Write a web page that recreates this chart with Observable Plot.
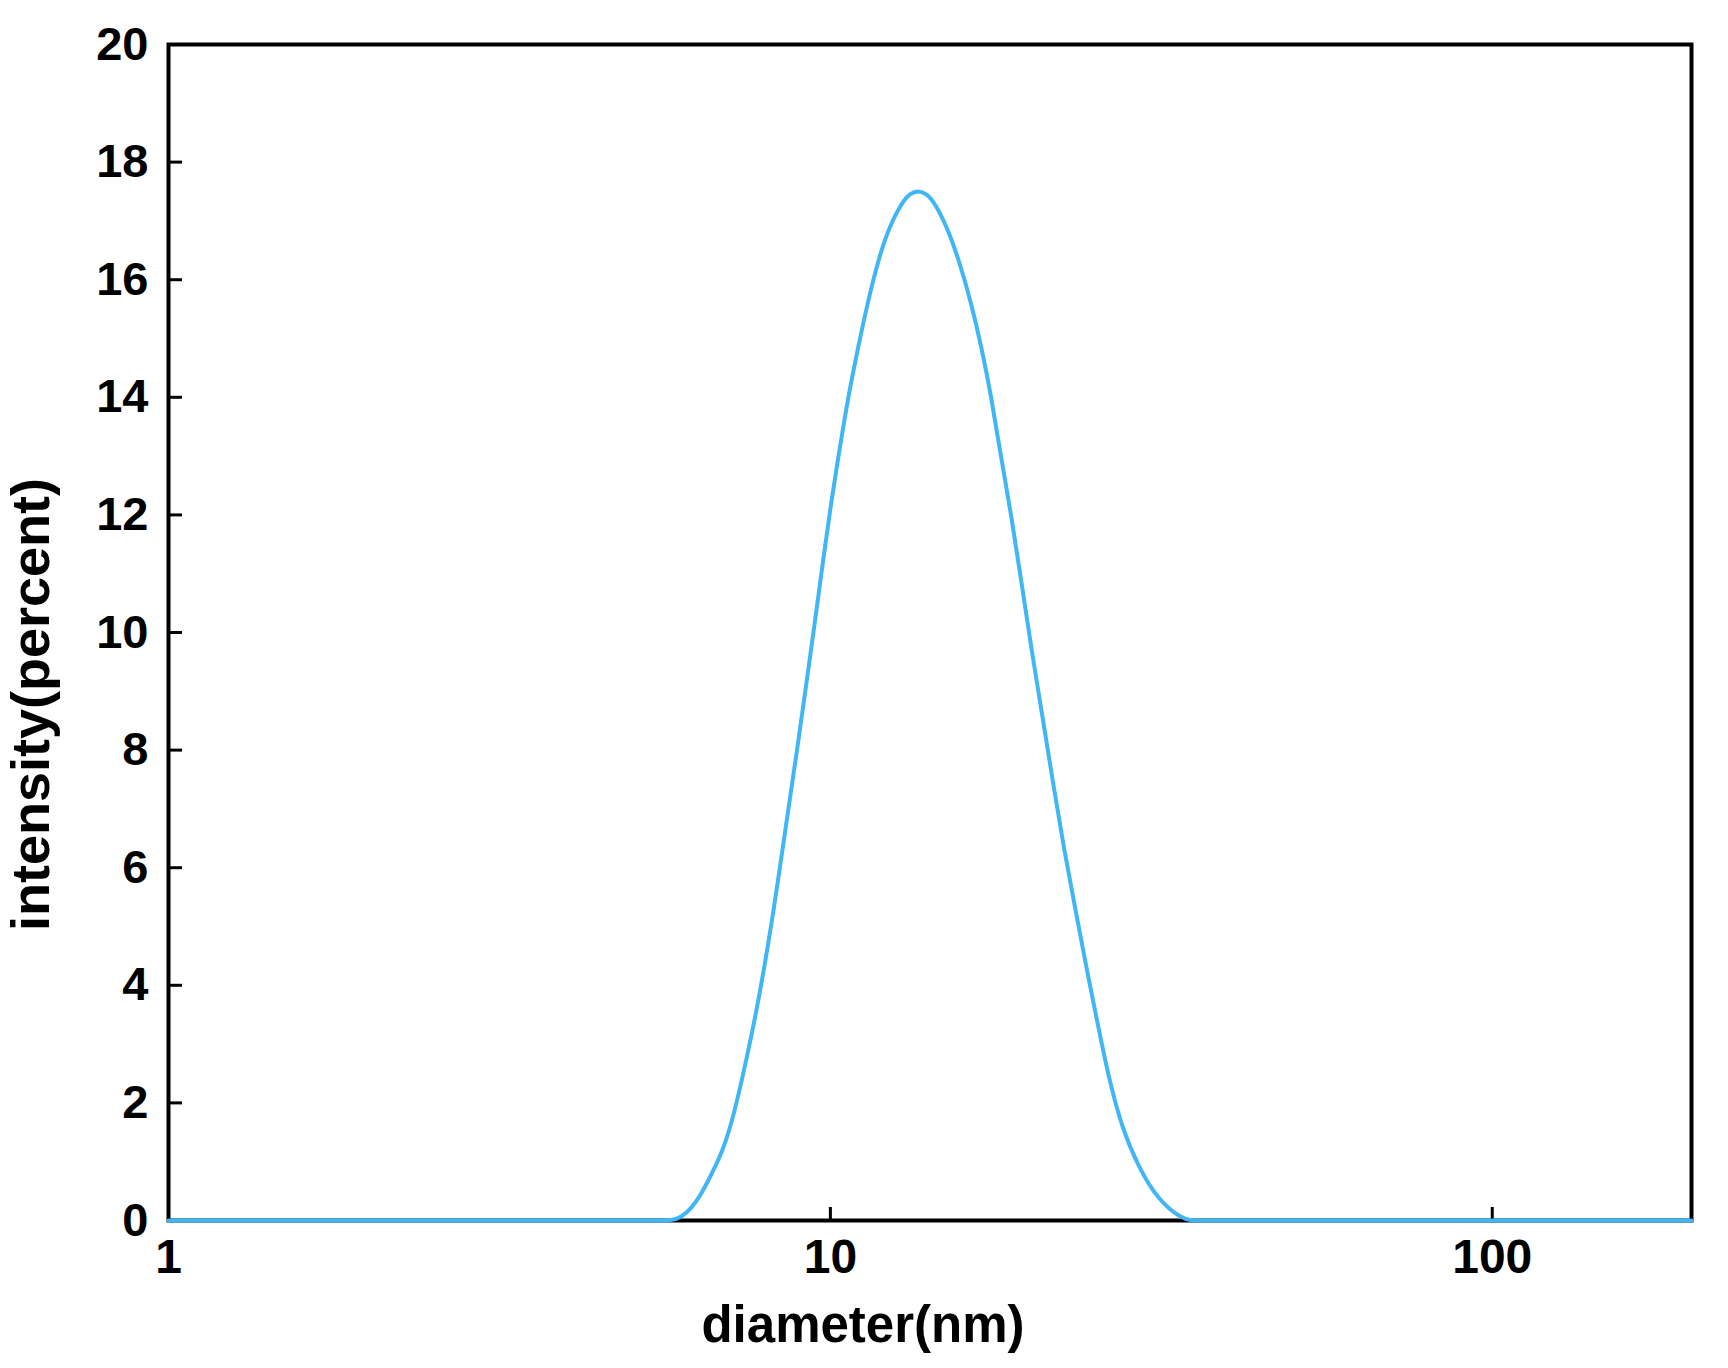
<!DOCTYPE html>
<html>
<head>
<meta charset="utf-8">
<script src="https://cdn.jsdelivr.net/npm/d3@7"></script>
<script src="https://cdn.jsdelivr.net/npm/@observablehq/plot@0.6"></script>
<style>
  html, body { margin: 0; padding: 0; background: #fff; }
  #chart { width: 1728px; height: 1368px; }
  svg { font-family: Arial, "Liberation Sans", sans-serif; font-weight: bold; }
</style>
</head>
<body>
<div id="chart"></div>
<script>
const diameter = [1, 3, 5, 5.5, 5.748, 5.952, 6.163, 6.380, 6.607, 6.842, 7.085, 7.337, 7.596, 7.865, 8.220, 8.432, 8.679, 8.934, 9.198, 9.467, 9.750, 10.035, 10.318, 10.636, 11.013, 11.403, 11.808, 12.226, 12.806, 13.199, 13.571, 13.970, 14.391, 15.084, 15.675, 16.286, 16.920, 17.522, 18.034, 18.786, 19.453, 20.140, 20.925, 21.707, 22.56, 23.422, 24.251, 25.109, 26.310, 27.554, 29.208, 31.309, 33.963, 35.16, 36.5, 40, 60, 200];
const intensity = [0, 0, 0, 0, 0, 0.051, 0.204, 0.442, 0.782, 1.122, 1.633, 2.347, 3.129, 3.997, 5.306, 6.179, 7.143, 8.107, 9.128, 10.148, 11.224, 12.245, 13.095, 14.002, 14.852, 15.646, 16.327, 16.854, 17.304, 17.469, 17.517, 17.466, 17.304, 16.837, 16.293, 15.646, 14.852, 13.980, 13.095, 11.961, 10.828, 9.694, 8.560, 7.427, 6.293, 5.328, 4.422, 3.571, 2.437, 1.587, 0.906, 0.340, 0.029, 0, 0, 0, 0, 0];
const xTicks = [1, 10, 100];
const yTicks = [0, 2, 4, 6, 8, 10, 12, 14, 16, 18, 20];
const xTitle = "diameter(nm)";
const yTitle = "intensity(percent)";

const data = diameter.map((d, i) => ({d, v: intensity[i]}));

const chart = Plot.plot({
  width: 1728,
  height: 1368,
  marginLeft: 168,
  marginRight: 37,
  marginTop: 44,
  marginBottom: 148,
  style: {fontFamily: 'Arial, "Liberation Sans", sans-serif', fontWeight: "bold", background: "#fff", color: "#000"},
  x: {type: "log", domain: [1, 200]},
  y: {domain: [0, 20]},
  marks: [
    Plot.frame({stroke: "#000", strokeWidth: 4}),
    Plot.axisX(xTicks, {tickSize: -13, tickPadding: 31, strokeWidth: 3, fontSize: 48, tickFormat: d => String(d), label: null}),
    Plot.axisY(yTicks, {tickSize: -14, tickPadding: 34, strokeWidth: 3, fontSize: 47, tickFormat: d => String(d), label: null}),
    Plot.line(data, {x: "d", y: "v", stroke: "#41b6f7", strokeWidth: 4, curve: "basis"}),
    Plot.text([xTitle], {frameAnchor: "bottom", dx: -67, dy: 121, fontSize: 51, lineAnchor: "bottom", textAnchor: "middle", text: d => d}),
    Plot.text([yTitle], {frameAnchor: "left", dx: -120, dy: 72, rotate: -90, fontSize: 54, lineAnchor: "bottom", textAnchor: "middle", text: d => d})
  ]
});
document.getElementById("chart").appendChild(chart);
</script>
</body>
</html>
